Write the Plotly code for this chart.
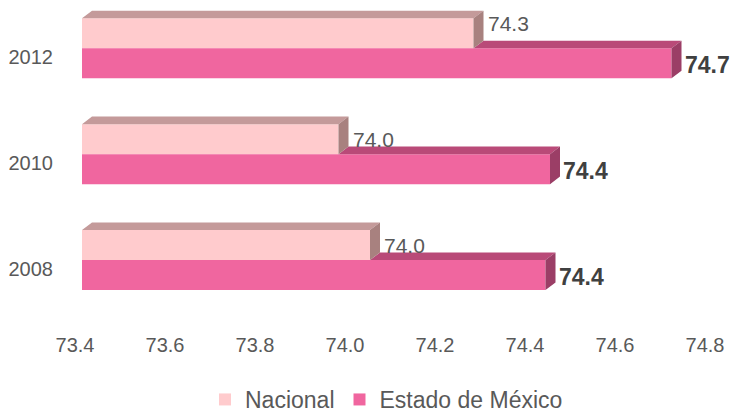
import plotly.graph_objects as go

# ---- data ----
years = ["2008", "2010", "2012"]
nacional = [74.04, 73.97, 74.27]
estado = [74.43, 74.44, 74.71]
x_ticks = [73.4, 73.6, 73.8, 74.0, 74.2, 74.4, 74.6, 74.8]
series_names = ["Nacional", "Estado de México"]

# ---- style / geometry ----
X_MIN, X_MAX = 73.4, 74.8
Y_MIN, Y_MAX = -0.7075, 2.4085
BAR_W = 0.283          # bar thickness in category units
DX = 10 / 450.0        # 3D depth (x, data units)
DY = 7.6 / 106.0       # 3D depth (y, data units)

C_NAC = dict(front="#FFCBCD", top="#C49A9A", side="#A8817F")
C_EST = dict(front="#F0669F", top="#B94A78", side="#9B3E66")
FONT = "Liberation Sans, Arial, sans-serif"
GREY = "#595959"

ypos = list(range(len(years)))

fig = go.Figure()

# front faces (bars)
fig.add_trace(go.Bar(orientation="h", y=ypos, x=nacional, width=BAR_W, offset=0,
                     marker=dict(color=C_NAC["front"], line=dict(width=0)),
                     name=series_names[0], hoverinfo="skip"))
fig.add_trace(go.Bar(orientation="h", y=ypos, x=estado, width=BAR_W, offset=-BAR_W,
                     marker=dict(color=C_EST["front"], line=dict(width=0)),
                     name=series_names[1], hoverinfo="skip"))


def poly_trace(polys, color):
    xs, ys = [], []
    for p in polys:
        for (a, b) in p:
            xs.append(a)
            ys.append(b)
        xs.append(p[0][0]); ys.append(p[0][1])
        xs.append(None); ys.append(None)
    return go.Scatter(x=xs, y=ys, mode="lines", fill="toself", fillcolor=color,
                      line=dict(width=0, color=color), showlegend=False,
                      hoverinfo="skip")


est_top, est_side, nac_top, nac_side = [], [], [], []
for y, n, e in zip(ypos, nacional, estado):
    yt = y + BAR_W
    est_top.append([(n, y), (e, y), (e + DX, y + DY), (n + DX, y + DY)])
    est_side.append([(e, y - BAR_W), (e, y), (e + DX, y + DY), (e + DX, y - BAR_W + DY)])
    nac_top.append([(X_MIN, yt), (n, yt), (n + DX, yt + DY), (X_MIN + DX, yt + DY)])
    nac_side.append([(n, y), (n, yt), (n + DX, yt + DY), (n + DX, y + DY)])

fig.add_trace(poly_trace(est_top, C_EST["top"]))
fig.add_trace(poly_trace(est_side, C_EST["side"]))
fig.add_trace(poly_trace(nac_top, C_NAC["top"]))
fig.add_trace(poly_trace(nac_side, C_NAC["side"]))

# value labels
nac_label_yshift = [0, 0, 10]
annotations = []
for i, (y, n, e) in enumerate(zip(ypos, nacional, estado)):
    annotations.append(dict(x=n, y=y + BAR_W / 2, xref="x", yref="y",
                            text=f"{n:.1f}", showarrow=False, xanchor="left",
                            xshift=12, yshift=nac_label_yshift[i],
                            font=dict(family=FONT, size=21, color=GREY)))
    annotations.append(dict(x=e, y=y - BAR_W / 2, xref="x", yref="y",
                            text=f"<b>{e:.1f}</b>", showarrow=False, xanchor="left",
                            xshift=11, yshift=-2,
                            font=dict(family=FONT, size=23, color="#404040")))

fig.update_layout(
    width=731, height=412,
    margin=dict(l=82, r=19, t=5, b=77, autoexpand=False),
    paper_bgcolor="white", plot_bgcolor="white",
    barmode="overlay",
    showlegend=True,
    legend=dict(orientation="h", xref="container", x=205 / 731, xanchor="left",
                yref="container", y=1 - 378 / 412, yanchor="top",
                font=dict(family=FONT, size=23, color=GREY),
                traceorder="normal"),
    annotations=annotations,
    font=dict(family=FONT, color=GREY),
)
fig.update_xaxes(range=[X_MIN, X_MAX], tickvals=x_ticks,
                 ticktext=[f"{t:.1f}" for t in x_ticks],
                 showgrid=False, zeroline=False, showline=False, ticks="",
                 automargin=False,
                 ticklabelshift=-7, ticklabelstandoff=-4,
                 tickfont=dict(family=FONT, size=20, color=GREY))
fig.update_yaxes(range=[Y_MIN, Y_MAX], tickvals=ypos, ticktext=years,
                 showgrid=False, zeroline=False, showline=False, ticks="",
                 automargin=False,
                 ticklabelshift=9, ticklabelstandoff=28,
                 tickfont=dict(family=FONT, size=20, color=GREY))

fig.write_html("out.html", config={"displayModeBar": False},
               post_script="document.body.style.margin='0';document.body.style.overflow='hidden';")
